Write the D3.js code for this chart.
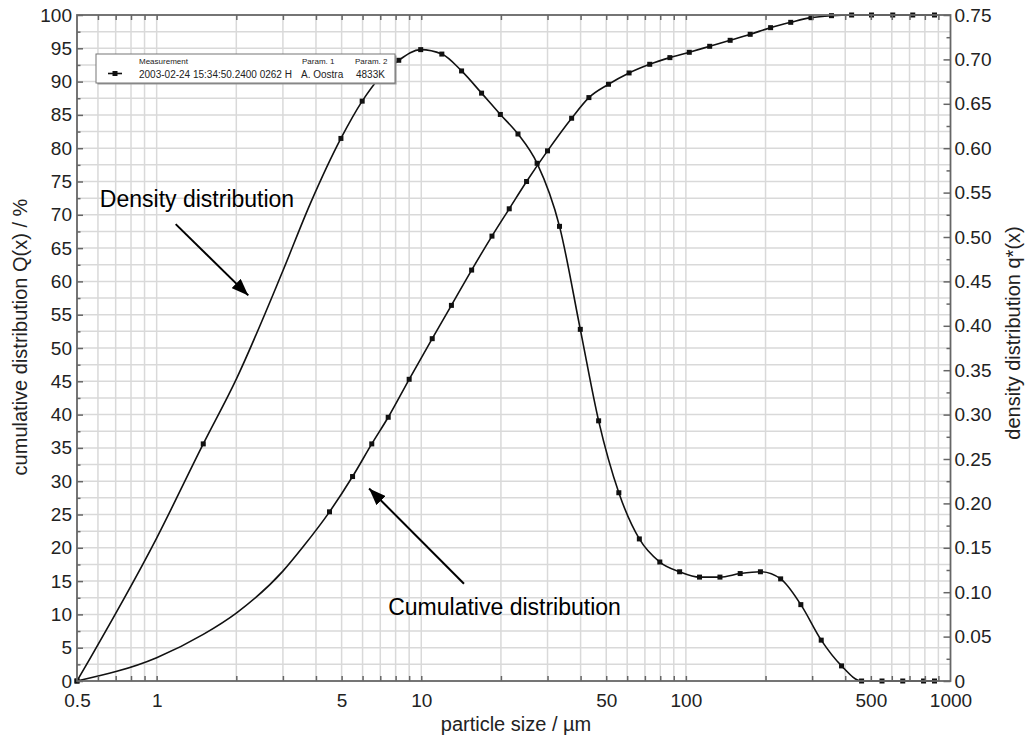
<!DOCTYPE html>
<html>
<head>
<meta charset="utf-8">
<script src="https://cdn.jsdelivr.net/npm/d3@7"></script>
<style>
  body { margin: 0; background: #fff; }
  svg { display: block; font-family: Arial, "Liberation Sans", sans-serif; }
</style>
</head>
<body>
<div id="chart"></div>
<script>
// cumulative distribution Q(x) in %, at the upper class edges
const cumSizes = [0.5, 4.5, 5.5, 6.5, 7.5, 9, 11, 13, 15.5, 18.5, 21.5, 25, 30, 37, 43, 51, 61, 73, 87, 103,
                  123, 147, 175, 209, 249, 297, 355, 423, 503, 605, 720, 870];
const cumValues = [0, 25.4, 30.7, 35.6, 39.6, 45.3, 51.4, 56.4, 61.7, 66.8, 70.9, 75.0, 79.6, 84.5, 87.6, 89.6, 91.3, 92.6, 93.6, 94.4,
                   95.3, 96.2, 97.1, 98.1, 98.9, 99.6, 99.9, 100, 100, 100, 100, 100];
// drawn line between 0.5 and 4.5 (no markers there)
const cumTraceSizes = [1, 1.5, 2, 3, 3.6];
const cumTraceValues = [3.5, 7.0, 10.2, 16.5, 20.3];

// density distribution q*(x), at the class means
const densSizes = [0.5, 1.5, 4.97, 5.98, 6.98, 8.22, 9.95, 11.96, 14.2, 16.9, 19.9, 23.2, 27.4, 33.3, 39.9, 46.8, 55.8, 66.7, 79.7, 94.7,
                   112.6, 134.5, 160.4, 191.3, 228.1, 271.9, 324.7, 387.5, 461.3, 551, 660, 791, 870];
const densValues = [0, 0.267, 0.611, 0.653, 0.680, 0.699, 0.711, 0.706, 0.687, 0.662, 0.638, 0.616, 0.583, 0.512, 0.396, 0.293, 0.212, 0.160, 0.134, 0.123,
                    0.117, 0.117, 0.121, 0.123, 0.115, 0.086, 0.046, 0.017, 0, 0, 0, 0, 0];
// drawn line between the first markers
const densTraceSizes = [1, 2, 3, 3.8];
const densTraceValues = [0.161, 0.340, 0.462, 0.537];

// tick labels
const xTickLabels = [0.5, 1, 5, 10, 50, 100, 500, 1000];
const leftTicks = d3.range(0, 101, 5);
const rightTicks = d3.range(0, 16).map(i => +(i * 0.05).toFixed(2));

const margin = { top: 15, right: 79.5, bottom: 61, left: 77 };
const W = 1030, H = 742;
const width = W - margin.left - margin.right;
const height = H - margin.top - margin.bottom;

const svg = d3.select("#chart").append("svg")
    .attr("width", W)
    .attr("height", H);

const g = svg.append("g")
    .attr("transform", "translate(" + margin.left + "," + margin.top + ")");

const x = d3.scaleLog().domain([0.5, 1000]).range([0, width]);
const yQ = d3.scaleLinear().domain([0, 100]).range([height, 0]);
const yq = d3.scaleLinear().domain([0, 0.75]).range([height, 0]);

// grid values 0.6, 0.7 ... 900
const gridX = [];
[0.1, 1, 10, 100].forEach(p => {
    for (let m = 1; m <= 9; m++) {
        const v = +(m * p).toPrecision(3);
        if (v > 0.5 && v < 1000) gridX.push(v);
    }
});
const gridY = d3.range(1, 40).map(i => i * 2.5);

// grid
g.append("g").selectAll("line")
    .data(gridX).enter().append("line")
    .attr("x1", d => x(d)).attr("x2", d => x(d))
    .attr("y1", 0).attr("y2", height)
    .attr("stroke", "#d9d9d9").attr("stroke-width", 1.5);

g.append("g").selectAll("line")
    .data(gridY).enter().append("line")
    .attr("x1", 0).attr("x2", width)
    .attr("y1", d => yQ(d)).attr("y2", d => yQ(d))
    .attr("stroke", "#d9d9d9").attr("stroke-width", 1.5);

// curves
const cumPoints = cumSizes.map((s, i) => ({ s: s, v: cumValues[i] }));
const cumLine = cumPoints.concat(cumTraceSizes.map((s, i) => ({ s: s, v: cumTraceValues[i] })))
    .sort((a, b) => a.s - b.s);
const densPoints = densSizes.map((s, i) => ({ s: s, v: densValues[i] }));
const densLine = densPoints.concat(densTraceSizes.map((s, i) => ({ s: s, v: densTraceValues[i] })))
    .sort((a, b) => a.s - b.s);

const lineQ = d3.line().x(d => x(d.s)).y(d => yQ(d.v)).curve(d3.curveMonotoneX);
const lineq = d3.line().x(d => x(d.s)).y(d => yq(d.v)).curve(d3.curveMonotoneX);

g.append("path").datum(cumLine)
    .attr("d", lineQ)
    .attr("fill", "none").attr("stroke", "#111").attr("stroke-width", 1.6);
g.append("path").datum(densLine)
    .attr("d", lineq)
    .attr("fill", "none").attr("stroke", "#111").attr("stroke-width", 1.6);

const ms = 5;
g.append("g").selectAll("rect")
    .data(cumPoints).enter().append("rect")
    .attr("x", d => x(d.s) - ms / 2).attr("y", d => yQ(d.v) - ms / 2)
    .attr("width", ms).attr("height", ms).attr("fill", "#111");
g.append("g").selectAll("rect")
    .data(densPoints).enter().append("rect")
    .attr("x", d => x(d.s) - ms / 2).attr("y", d => yq(d.v) - ms / 2)
    .attr("width", ms).attr("height", ms).attr("fill", "#111");

// axes
const axisColor = "#666";
const labelFont = "19px";

function styleAxis(sel) {
    sel.select(".domain").remove();
    sel.selectAll(".tick line").attr("stroke", axisColor).attr("stroke-width", 1.5);
    sel.selectAll(".tick text").attr("fill", "#222").style("font-size", labelFont)
        .style("font-family", "Arial, 'Liberation Sans', sans-serif");
}

// left
g.append("g")
    .call(d3.axisLeft(yQ).tickValues(d3.range(0, 20).map(i => i * 5 + 2.5))
        .tickSize(-3.5).tickSizeOuter(0).tickFormat(""))
    .call(styleAxis);
g.append("g")
    .call(d3.axisLeft(yQ).tickValues(leftTicks).tickSize(-6).tickSizeOuter(0).tickPadding(5))
    .call(styleAxis);

// right
g.append("g").attr("transform", "translate(" + width + ",0)")
    .call(d3.axisRight(yq).tickValues(d3.range(0, 15).map(i => i * 0.05 + 0.025))
        .tickSize(-4).tickSizeOuter(0).tickFormat(""))
    .call(styleAxis);
g.append("g").attr("transform", "translate(" + width + ",0)")
    .call(d3.axisRight(yq).tickValues(rightTicks).tickSize(-7).tickSizeOuter(0).tickPadding(4)
        .tickFormat(d => d === 0 ? "0" : d3.format(".2f")(d)))
    .call(styleAxis);

// bottom
g.append("g").attr("transform", "translate(0," + height + ")")
    .call(d3.axisBottom(x).tickValues(gridX).tickSize(-5).tickSizeOuter(0).tickFormat(""))
    .call(styleAxis);
g.append("g").attr("transform", "translate(0," + height + ")")
    .call(d3.axisBottom(x).tickValues(xTickLabels).tickSize(0).tickSizeOuter(0).tickPadding(13)
        .tickFormat(d => String(d)))
    .call(styleAxis);

// top
g.append("g")
    .call(d3.axisTop(x).tickValues(gridX).tickSize(-5).tickSizeOuter(0).tickFormat(""))
    .call(styleAxis);

// frame
g.append("rect")
    .attr("x", 0).attr("y", 0).attr("width", width).attr("height", height)
    .attr("fill", "none").attr("stroke", axisColor).attr("stroke-width", 1.8);

// axis titles
svg.append("text")
    .attr("transform", "translate(27,337) rotate(-90)")
    .attr("text-anchor", "middle")
    .style("font-size", "20px").attr("fill", "#222")
    .text("cumulative distribution Q(x) / %");

svg.append("text")
    .attr("transform", "translate(1020,333) rotate(-90)")
    .attr("text-anchor", "middle")
    .style("font-size", "20px").attr("fill", "#222")
    .text("density distribution q*(x)");

svg.append("text")
    .attr("x", 516).attr("y", 731)
    .attr("text-anchor", "middle")
    .style("font-size", "20px").attr("fill", "#222")
    .text("particle size / µm");

// legend box
const legend = svg.append("g").attr("transform", "translate(96,54)");
legend.append("rect")
    .attr("x", 1.5).attr("y", 1.5).attr("width", 299).attr("height", 29)
    .attr("fill", "#999");
legend.append("rect")
    .attr("x", 0).attr("y", 0).attr("width", 299).attr("height", 29)
    .attr("fill", "#fff").attr("stroke", "#777").attr("stroke-width", 1);
legend.append("text").attr("x", 43).attr("y", 10).style("font-size", "8px").attr("fill", "#222").text("Measurement");
legend.append("text").attr("x", 206).attr("y", 10).style("font-size", "8px").attr("fill", "#222").text("Param. 1");
legend.append("text").attr("x", 259).attr("y", 10).style("font-size", "8px").attr("fill", "#222").text("Param. 2");
legend.append("line").attr("x1", 12).attr("x2", 26).attr("y1", 19.5).attr("y2", 19.5)
    .attr("stroke", "#111").attr("stroke-width", 1.6);
legend.append("rect").attr("x", 16.5).attr("y", 17).attr("width", 5).attr("height", 5).attr("fill", "#111");
legend.append("text").attr("x", 43).attr("y", 23.5).style("font-size", "10px").attr("fill", "#222")
    .text("2003-02-24 15:34:50.2400 0262 H");
legend.append("text").attr("x", 205).attr("y", 23.5).style("font-size", "10px").attr("fill", "#222")
    .text("A. Oostra");
legend.append("text").attr("x", 260).attr("y", 23.5).style("font-size", "10px").attr("fill", "#222")
    .text("4833K");

// annotations
svg.append("defs").append("marker")
    .attr("id", "arrow")
    .attr("viewBox", "0 0 17 13")
    .attr("refX", 17).attr("refY", 6.5)
    .attr("markerWidth", 17).attr("markerHeight", 13)
    .attr("markerUnits", "userSpaceOnUse")
    .attr("orient", "auto")
    .append("path").attr("d", "M0,0 L17,6.5 L0,13 Z").attr("fill", "#000");

const notes = [
    { text: "Density distribution", tx: 0.61, ty: 71.2, from: [1.18, 68.6], to: [2.22, 57.9] },
    { text: "Cumulative distribution", tx: 7.5, ty: 9.9, from: [14.5, 14.6], to: [6.35, 28.9] }
];
notes.forEach(n => {
    g.append("text")
        .attr("x", x(n.tx)).attr("y", yQ(n.ty))
        .style("font-size", "23px").attr("fill", "#000")
        .text(n.text);
    g.append("line")
        .attr("x1", x(n.from[0])).attr("y1", yQ(n.from[1]))
        .attr("x2", x(n.to[0])).attr("y2", yQ(n.to[1]))
        .attr("stroke", "#000").attr("stroke-width", 2)
        .attr("marker-end", "url(#arrow)");
});
</script>
</body>
</html>
